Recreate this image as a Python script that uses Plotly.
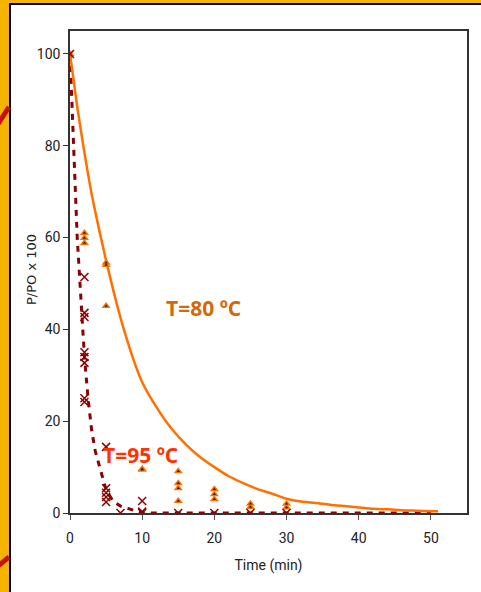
import plotly.graph_objects as go

# Fitted curve, T = 80 ºC (solid orange)
fit80_t = [0, 1, 2, 3, 4, 5, 6, 7, 8, 9, 10, 12, 14, 16, 18, 20, 22, 24, 26, 28, 30,
           32, 34, 36, 38, 40, 42, 44, 46, 48, 50, 51]
fit80_v = [100, 88.5, 78.5, 69.5, 62, 55, 48.5, 42.5, 37.2, 32.5, 28.5, 23, 18.5, 15, 12.2, 10,
           8, 6.5, 5.2, 4.2, 3.1, 2.5, 2.2, 1.8, 1.5, 1.2, 0.9, 0.8, 0.6, 0.5, 0.4, 0.4]

# Fitted curve, T = 95 ºC (dashed dark red)
fit95_t = [0, 0.5, 1, 1.5, 2, 2.5, 3, 3.5, 4, 4.5, 5, 6, 7, 8, 9, 10, 12, 14, 16, 18, 20,
           22, 24, 26, 28, 30, 32, 34, 36, 38, 40, 42, 44, 46, 48, 50]
fit95_v = [100, 78, 60, 47, 34, 25, 18, 13.5, 10.5, 7.6, 5, 2.5, 1.5, 1, 0.5, 0, 0, 0, 0, 0, 0,
           0, 0, 0, 0, 0, 0, 0, 0, 0, 0, 0, 0, 0, 0, 0]

# Measured points, T = 80 ºC (orange triangles)
obs80_t = [0, 2, 2, 2, 5, 5, 5, 10, 10, 15, 15, 15, 15, 20, 20, 20, 25, 25, 30, 30]
obs80_v = [100, 61, 59.9, 58.8, 54.5, 54, 45.1, 9.6, 9.4, 9.1, 6.5, 5.4, 2.6, 5.2, 4.1, 3.0,
           2.0, 1.3, 2.0, 1.2]

# Measured points, T = 95 ºC (dark red crosses)
obs95_t = [0, 2, 2, 2, 2, 2, 2, 2, 2, 5, 5, 5, 5, 5, 7, 10, 10, 10, 15, 20, 25, 30]
obs95_v = [100, 51.4, 43.6, 42.7, 35, 34, 32.7, 25, 24.2, 14.4, 5.4, 4.4, 3.5, 2.4, 0, 2.6,
           0.3, 0, 0, 0, 0, 0]

x_ticks = [0, 10, 20, 30, 40, 50]
y_ticks = [0, 20, 40, 60, 80, 100]

ORANGE = "#FF7000"
DARKRED = "#8B0000"

fig = go.Figure()
fig.add_trace(go.Scatter(x=fit95_t, y=fit95_v, mode="lines",
                         line=dict(color=DARKRED, width=3, dash="6px,6px"),
                         hoverinfo="skip"))
fig.add_trace(go.Scatter(x=fit80_t, y=fit80_v, mode="lines",
                         line=dict(color=ORANGE, width=2.5, shape="spline", smoothing=0.6),
                         hoverinfo="skip"))
fig.add_trace(go.Scatter(x=obs80_t, y=obs80_v, mode="markers",
                         marker=dict(symbol="triangle-up", size=8, color=ORANGE,
                                     line=dict(width=0))))
fig.add_trace(go.Scatter(x=obs80_t, y=obs80_v, mode="markers",
                         marker=dict(symbol="triangle-up", size=3, color="#222222",
                                     line=dict(width=0))))
fig.add_trace(go.Scatter(x=obs95_t, y=obs95_v, mode="markers",
                         marker=dict(symbol="x-thin-open", size=8, color=DARKRED,
                                     line=dict(width=1.5, color=DARKRED))))

def px(x):
    return (x - 70) / 397.0

def py(y):
    return (513 - y) / 482.0

shapes = [
    dict(type="rect", xref="paper", yref="paper", x0=px(10), y0=py(620), x1=px(500), y1=py(4),
         fillcolor="white", line=dict(color="black", width=2), layer="below"),
    dict(type="line", xref="paper", yref="paper", x0=px(-2), y0=py(124), x1=px(9), y1=py(107),
         line=dict(color="#C8100E", width=5), layer="below"),
    dict(type="line", xref="paper", yref="paper", x0=px(-2), y0=py(566), x1=px(9), y1=py(557),
         line=dict(color="#C8100E", width=5), layer="below"),
]

annotations = [
    dict(x=18.5, y=44.7, xref="x", yref="y", text="<b>T=80 ºC</b>", showarrow=False,
         font=dict(family="Open Sans, DejaVu Sans, sans-serif", size=21, color="#D2690A")),
    dict(x=9.8, y=12.6, xref="x", yref="y", text="<b>T=95 ºC</b>", showarrow=False,
         font=dict(family="Open Sans, DejaVu Sans, sans-serif", size=21, color="#FF3300")),
    dict(x=px(31), y=py(270), xref="paper", yref="paper", text="P/PO x 100", textangle=-90,
         showarrow=False, xanchor="center", yanchor="middle",
         font=dict(family="DejaVu Sans, sans-serif", size=13, color="#222222")),
]

tickfont = dict(family="Roboto, sans-serif", size=14, color="#222222")

fig.update_layout(
    width=481, height=592,
    margin=dict(l=70, r=14, t=31, b=79),
    paper_bgcolor="#F4B400",
    plot_bgcolor="white",
    showlegend=False,
    shapes=shapes,
    annotations=annotations,
    xaxis=dict(range=[0, 55], tickvals=x_ticks, ticks="outside", ticklen=5, tickcolor="#555555",
               showgrid=False, zeroline=False, showline=True, linecolor="#333333", linewidth=1.5,
               mirror=True, tickfont=tickfont, ticklabelstandoff=6,
               title=dict(text="Time (min)", font=tickfont, standoff=16)),
    yaxis=dict(range=[0, 105], tickvals=y_ticks, ticks="outside", ticklen=5, tickcolor="#333333",
               showgrid=False, zeroline=True, zerolinecolor="black", zerolinewidth=2,
               showline=True, linecolor="#333333", linewidth=1.5, mirror=True, tickfont=tickfont),
)

fig.write_html("out.html")
